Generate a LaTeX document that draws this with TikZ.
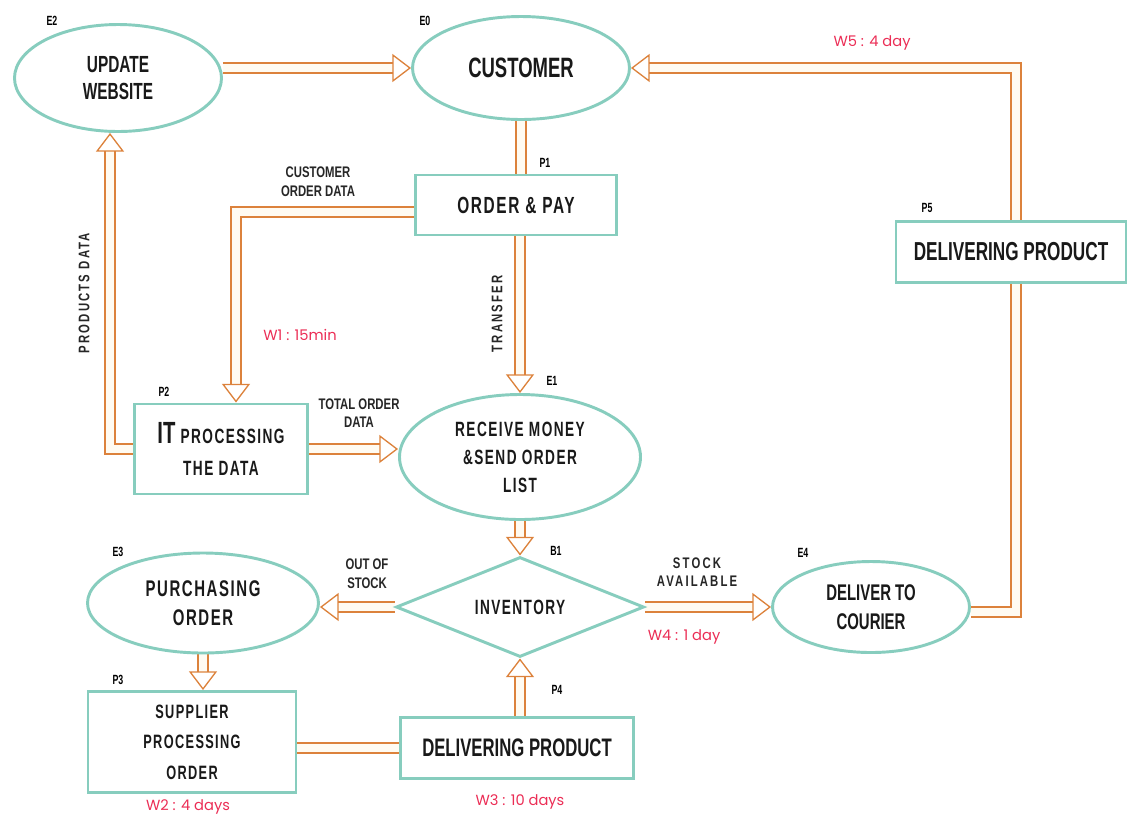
\documentclass[tikz,border=0pt]{standalone}
\usepackage{fontspec}
\setmainfont{Liberation Sans}
\newfontfamily\cbf{Liberation Sans}[FakeStretch=0.66]
\newfontfamily\cbs{Liberation Sans}[FakeStretch=0.66,LetterSpace=7]
\newfontfamily\labf{Liberation Sans}[FakeStretch=0.74]
\newfontfamily\labs{Liberation Sans}[FakeStretch=0.74,LetterSpace=14]
\newfontfamily\wf{Poppins}
\usetikzlibrary{shapes.geometric,arrows.meta,calc,backgrounds}
\definecolor{bordc}{RGB}{135,205,190}
\definecolor{flowc}{RGB}{220,130,60}
\definecolor{flowin}{RGB}{255,251,242}
\definecolor{wred}{RGB}{235,45,85}
\begin{document}
\begin{tikzpicture}[x=0.75pt,y=-0.75pt,
  shapeline/.style={draw=bordc, line width=2.2pt, fill=white, inner sep=0pt, align=center, text=black!90},
  ell/.style={shapeline, ellipse},
  box/.style={shapeline, rectangle},
  flow/.style={draw=flowc, line width=1pt, double=flowin, double distance=6.5pt},
  flowarrow/.style={flow, -{Triangle[open, length=14pt, width=21pt, line width=1pt]}},
  tag/.style={font=\cbf\bfseries\fontsize{10}{11}\selectfont, inner sep=0pt},
  lab/.style={font=\labf\bfseries\fontsize{11.5}{14}\selectfont, align=center, inner sep=0pt, text=black!85},
  labsp/.style={font=\labs\bfseries\fontsize{11.5}{14}\selectfont, align=center, inner sep=0pt, text=black!85},
  vlab/.style={font=\labs\bfseries\fontsize{11.5}{13}\selectfont, inner sep=0pt, text=black!85},
  wlab/.style={font=\wf\fontsize{11}{12}\selectfont, text=wred, inner sep=0pt}]
\useasboundingbox (0,0) rectangle (1127,819);

% nodes
\node[ell, minimum width=155.25pt, minimum height=80.25pt, font=\cbf\bfseries\fontsize{17.5}{20}\selectfont] (E2) at (118,78) {UPDATE\\WEBSITE};
\node[ell, minimum width=162.75pt, minimum height=77.25pt, font=\cbf\bfseries\fontsize{21}{24}\selectfont] (E0) at (521,68) {CUSTOMER};
\node[box, minimum width=150.75pt, minimum height=45pt, font=\cbs\bfseries\fontsize{17.5}{20}\selectfont] (P1) at (516,205) {ORDER \& PAY};
\node[box, minimum width=172.5pt, minimum height=45.75pt, font=\cbf\bfseries\fontsize{19.5}{22}\selectfont] (P5) at (1011,252) {DELIVERING PRODUCT};
\node[box, minimum width=129.75pt, minimum height=67.5pt, font=\cbs\bfseries\fontsize{15.5}{24}\selectfont] (P2) at (221,449) {{\cbf\fontsize{23}{24}\selectfont IT} PROCESSING\\THE DATA};
\node[ell, minimum width=180.75pt, minimum height=93.75pt, font=\cbs\bfseries\fontsize{15.5}{21}\selectfont] (E1) at (520,457) {RECEIVE MONEY\\\&SEND ORDER\\LIST};
\node[shapeline, diamond, shape aspect=2.5, minimum width=186pt, minimum height=75pt, font=\cbs\bfseries\fontsize{15.5}{18}\selectfont] (B1) at (520,607) {INVENTORY};
\node[ell, minimum width=147.75pt, minimum height=68.25pt, font=\cbf\bfseries\fontsize{17}{22}\selectfont] (E4) at (871,607) {DELIVER TO\\COURIER};
\node[ell, minimum width=173.25pt, minimum height=75pt, font=\cbs\bfseries\fontsize{17}{22}\selectfont] (E3) at (203,603) {PURCHASING\\ORDER};
\node[box, minimum width=156pt, minimum height=75.75pt, font=\cbs\bfseries\fontsize{14.5}{23}\selectfont] (P3) at (192,742) {SUPPLIER\\PROCESSING\\ORDER};
\node[box, minimum width=174.75pt, minimum height=45.75pt, font=\cbf\bfseries\fontsize{19}{22}\selectfont] (P4) at (517,748) {DELIVERING PRODUCT};

% tags
\node[tag] (tE2) at (52,21) {E2};
\node[tag] (tE0) at (425,21) {E0};
\node[tag] (tP1) at (545,163) {P1};
\node[tag] (tP5) at (927,208) {P5};
\node[tag] (tP2) at (164,392) {P2};
\node[tag] (tE1) at (552,381) {E1};
\node[tag] (tB1) at (556,551) {B1};
\node[tag] (tE4) at (803,553) {E4};
\node[tag] (tE3) at (118,552) {E3};
\node[tag] (tP3) at (118,680) {P3};
\node[tag] (tP4) at (557,690) {P4};

% labels
\node[lab] (lcod) at (318,182) {CUSTOMER\\ORDER DATA};
\node[vlab, rotate=90] (lpd) at (84,293) {PRODUCTS DATA};
\node[vlab, rotate=90] (ltr) at (497,314) {TRANSFER};
\node[lab] (ltod) at (359,413) {TOTAL ORDER\\DATA};
\node[lab] (loos) at (367,574) {OUT OF\\STOCK};
\node[labsp] (lsa) at (697,572) {STOCK\\AVAILABLE};
\node[wlab] (w1) at (300,335) {W1 : 15min};
\node[wlab] (w2) at (188,807) {W2 : 4 days};
\node[wlab] (w3) at (520,802) {W3 : 10 days};
\node[wlab] (w4) at (684,637) {W4 : 1 day};
\node[wlab] (w5) at (872,43) {W5 : 4 day};

% connectors
\begin{pgfonlayer}{background}
\draw[flowarrow] (E2.east |- E0.west) -- (E0.west);
\draw[flowarrow] (P2.west) -| ($(E2.south)+(-8,0)$);
\draw[flow] (E0.south) -- (E0.south |- P1.north);
\draw[flowarrow] ($(P1.west)+(0,7)$) -| ($(P2.north)+(15,0)$);
\draw[flowarrow] (E1.north |- P1.south) -- (E1.north);
\draw[flowarrow] (P2.east) -- (E1.west |- P2.east);
\draw[flowarrow] (E1.south) -- (B1.north);
\draw[flowarrow] (B1.west) -- (E3.east |- B1.west);
\draw[flowarrow] (B1.east) -- (E4.west |- B1.east);
\draw[flow] ($(E4.east)+(0,5)$) -| ($(P5.south)+(5,0)$);
\draw[flowarrow] ($(P5.north)+(5,0)$) |- (E0.east);
\draw[flowarrow] (E3.south) -- (E3.south |- P3.north);
\draw[flow] (P3.east |- P4.west) -- (P4.west);
\draw[flowarrow] (B1.south |- P4.north) -- (B1.south);
\end{pgfonlayer}
\end{tikzpicture}
\end{document}
